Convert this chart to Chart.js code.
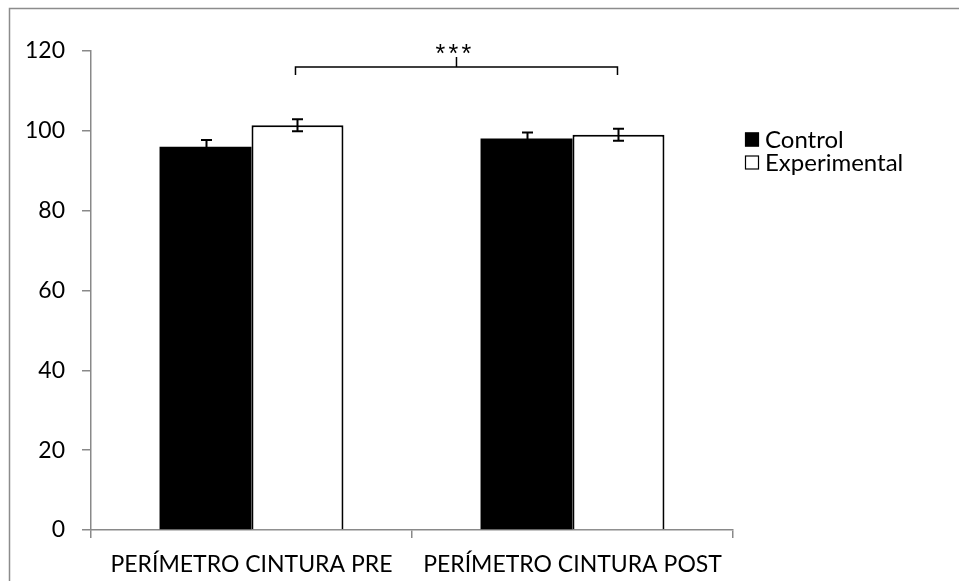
<!DOCTYPE html>
<html>
<head>
<meta charset="utf-8">
<script src="https://cdn.jsdelivr.net/npm/chart.js@4.4.1/dist/chart.umd.min.js"></script>
<style>
  html, body { margin: 0; padding: 0; background: #fff; }
  #wrap { width: 959px; height: 581px; position: relative; }
</style>
</head>
<body>
<div id="wrap"><canvas id="c" width="959" height="581"></canvas></div>
<script>
// Waist perimeter, control vs experimental group, before and after
const categories = ['PERÍMETRO CINTURA PRE', 'PERÍMETRO CINTURA POST'];
const seriesNames = ['Control', 'Experimental'];
const controlValues = [96.0, 98.1];
const experimentalValues = [101.4, 99.0];
const controlErrors = [1.7, 1.5];
const experimentalErrors = [1.5, 1.5];
const yMin = 0, yMax = 120, yStep = 20;
// significance bracket between the experimental bars
const bracketLabel = '***';
const bracketLevel = 116;
const bracketEnds = 114;
const bracketPeak = 118.5;

const FONT = 'Lato, "Open Sans", sans-serif';
const AXIS_GREY = '#898989';

const errorBars = {
  id: 'errorBars',
  afterDatasetsDraw(chart) {
    const ctx = chart.ctx;
    const y = chart.scales.y;
    const errs = [controlErrors, experimentalErrors];
    ctx.save();
    ctx.strokeStyle = '#000';
    ctx.lineWidth = 2;
    chart.data.datasets.forEach((ds, di) => {
      const meta = chart.getDatasetMeta(di);
      meta.data.forEach((bar, i) => {
        const v = ds.data[i], e = errs[di][i];
        const top = y.getPixelForValue(v + e);
        const bot = y.getPixelForValue(v - e);
        const x = Math.round(bar.x) + 0.5;
        ctx.beginPath();
        ctx.moveTo(x, top); ctx.lineTo(x, bot);
        ctx.moveTo(x - 5.5, top); ctx.lineTo(x + 5.5, top);
        ctx.moveTo(x - 5.5, bot); ctx.lineTo(x + 5.5, bot);
        ctx.stroke();
      });
    });
    ctx.restore();
  }
};

const bracket = {
  id: 'bracket',
  afterDatasetsDraw(chart) {
    const ctx = chart.ctx;
    const y = chart.scales.y;
    const meta = chart.getDatasetMeta(1);
    const x0 = meta.data[0].x - 2, x1 = meta.data[1].x - 1;
    const xm = (x0 + x1) / 2;
    const yl = y.getPixelForValue(bracketLevel);
    const ye = y.getPixelForValue(bracketEnds);
    const yp = y.getPixelForValue(bracketPeak);
    ctx.save();
    ctx.strokeStyle = '#000';
    ctx.lineWidth = 1.5;
    ctx.beginPath();
    ctx.moveTo(x0, ye); ctx.lineTo(x0, yl); ctx.lineTo(x1, yl); ctx.lineTo(x1, ye);
    ctx.moveTo(xm, yl); ctx.lineTo(xm, yp);
    ctx.stroke();
    // the stars, spaced out one by one
    ctx.fillStyle = '#000';
    ctx.font = '25px "Liberation Sans", sans-serif';
    ctx.textAlign = 'center';
    ctx.textBaseline = 'alphabetic';
    const chars = bracketLabel.split('');
    const gap = 13;
    chars.forEach((ch, k) => {
      ctx.fillText(ch, xm - 3 + (k - (chars.length - 1) / 2) * gap, yp + 5);
    });
    ctx.restore();
  }
};

const frameAndLegend = {
  id: 'frameAndLegend',
  beforeDraw(chart) {
    const ctx = chart.ctx;
    ctx.save();
    ctx.fillStyle = '#fff';
    ctx.fillRect(0, 0, chart.width, chart.height);
    ctx.strokeStyle = '#8c8c8c';
    ctx.lineWidth = 1.5;
    ctx.strokeRect(9.5, 8.5, chart.width + 20, chart.height + 20);
    ctx.restore();
  },
  afterDraw(chart) {
    const ctx = chart.ctx;
    ctx.save();
    ctx.font = '24px ' + FONT;
    ctx.textBaseline = 'middle';
    chart.data.datasets.forEach((ds, i) => {
      const cy = 139 + i * 23;
      ctx.fillStyle = ds.backgroundColor;
      ctx.fillRect(745, cy - 6.5, 14, 14);
      ctx.strokeStyle = '#000';
      ctx.lineWidth = 1.2;
      ctx.strokeRect(745.5, cy - 6, 13, 13);
      ctx.fillStyle = '#000';
      ctx.fillText(ds.label, 765, cy + 1);
    });
    ctx.restore();
  }
};

new Chart(document.getElementById('c'), {
  type: 'bar',
  data: {
    labels: categories,
    datasets: [
      { label: seriesNames[0], data: controlValues, backgroundColor: '#000', borderColor: '#000', borderWidth: 0 },
      { label: seriesNames[1], data: experimentalValues, backgroundColor: '#fff', borderColor: '#000', borderWidth: 2, borderSkipped: 'start' }
    ]
  },
  plugins: [frameAndLegend, errorBars, bracket],
  options: {
    responsive: false,
    animation: false,
    devicePixelRatio: 1,
    categoryPercentage: 0.573,
    barPercentage: 1,
    layout: { padding: { left: 0, top: 51, right: 226, bottom: 0 } },
    plugins: { legend: { display: false }, tooltip: { enabled: false } },
    scales: {
      x: {
        afterFit(s) { s.height = 51; },
        grid: { display: true, drawOnChartArea: false, drawTicks: true, tickLength: 8, color: AXIS_GREY, lineWidth: 1.5, offset: true },
        border: { display: true, color: AXIS_GREY, width: 1.5 },
        ticks: { color: '#000', font: { family: FONT, size: 23 }, padding: 13, maxRotation: 0, autoSkip: false }
      },
      y: {
        min: yMin, max: yMax,
        afterFit(s) { s.width = 91; },
        grid: { display: true, drawOnChartArea: false, drawTicks: true, tickLength: 9, color: AXIS_GREY, lineWidth: 1.5 },
        border: { display: true, color: AXIS_GREY, width: 1.5 },
        ticks: { stepSize: yStep, color: '#000', font: { family: FONT, size: 23 }, padding: 17 }
      }
    }
  }
});
</script>
</body>
</html>
